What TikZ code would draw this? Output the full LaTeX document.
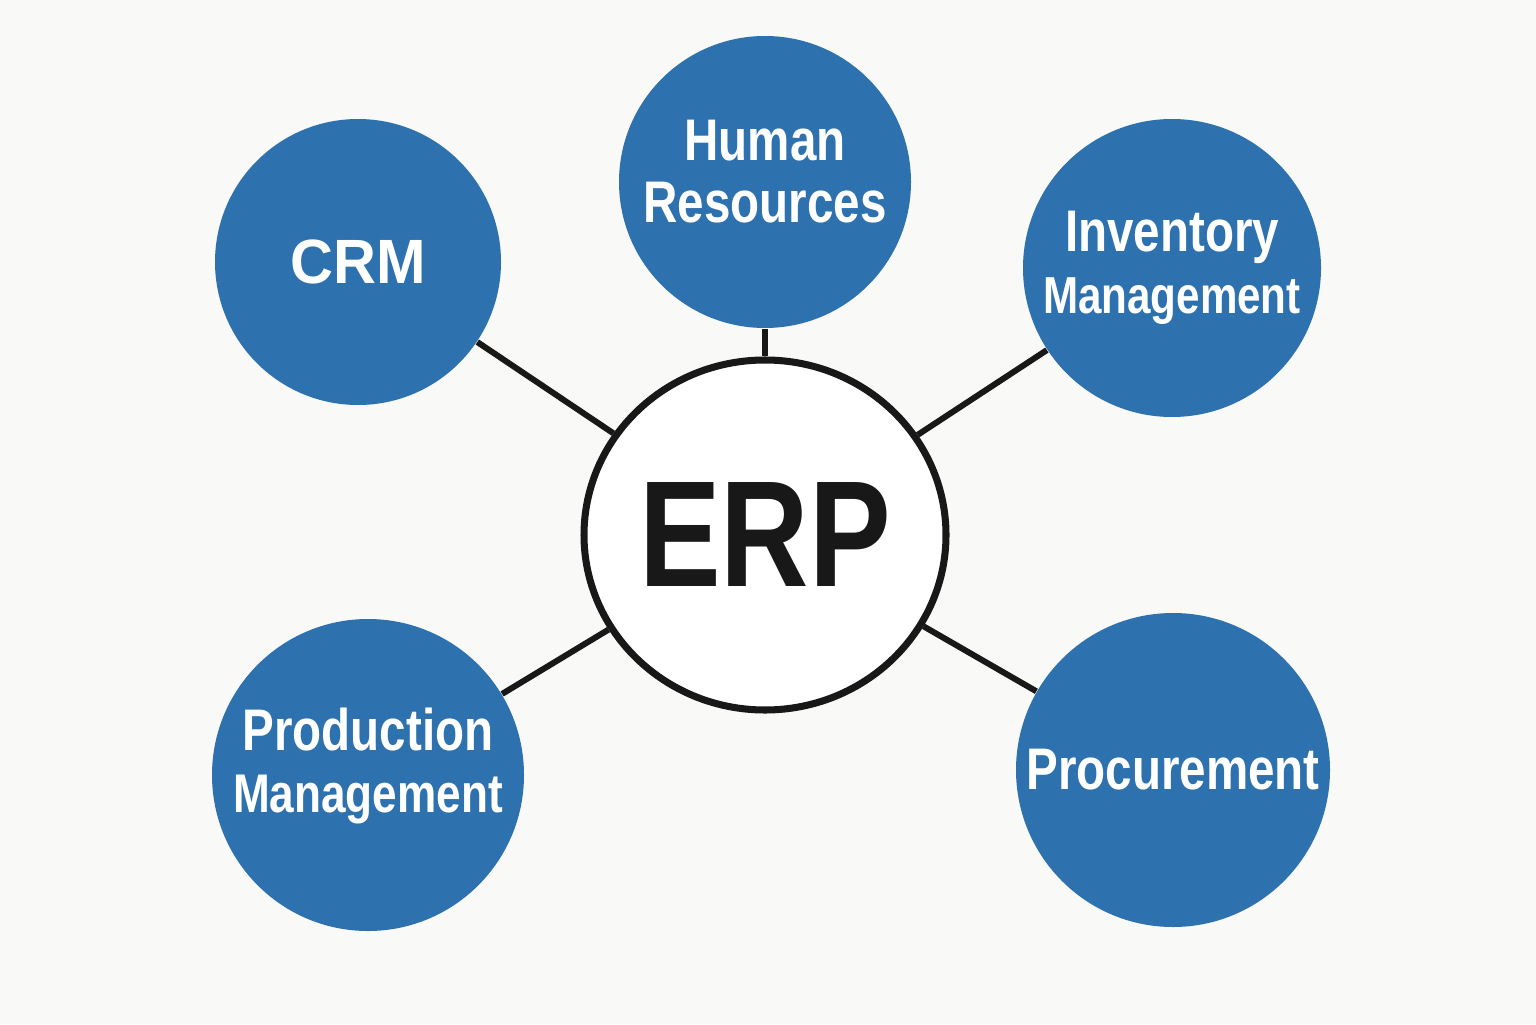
\documentclass[tikz,border=0pt]{standalone}
\usepackage{fontspec}
\newfontfamily\labfont{Liberation Sans}[FakeStretch=0.81]
\newfontfamily\widefont{Liberation Sans}[FakeStretch=0.95]
\usetikzlibrary{shapes.geometric}
\definecolor{bg}{RGB}{249,249,247}
\definecolor{modblue}{RGB}{46,113,175}
\definecolor{ink}{RGB}{24,24,24}
\tikzset{
  module/.style={circle, fill=modblue, draw=none, inner sep=0pt},
  modtext/.style={text=white, align=center, inner sep=0pt,
    font=\labfont\bfseries\fontsize{16.7}{17.6}\selectfont},
  link/.style={draw=ink, line width=1.7pt},
}
\begin{document}
\begin{tikzpicture}
\useasboundingbox (0,0) rectangle (15.36,10.24);
\fill[bg] (0,0) rectangle (15.36,10.24);
\node[ellipse, draw=ink, line width=2pt, fill=white, minimum width=3.62cm, minimum height=3.5cm, inner sep=0pt,
  label={[text=ink, inner sep=0pt, font=\labfont\bfseries\fontsize{43}{43}\selectfont]center:ERP}] (erp) at (7.65,4.89) {};
\node[module, minimum size=2.86cm, label={[modtext, font=\widefont\bfseries\fontsize{17.8}{17.8}\selectfont]center:CRM}] (crm) at (3.58,7.62) {};
\node[module, minimum size=2.92cm, label={[modtext, yshift=3pt]center:Human\\Resources}] (hr) at (7.65,8.42) {};
\node[module, minimum size=2.98cm, label={[modtext, yshift=0pt]center:Inventory\\{\fontsize{14.8}{14.8}\selectfont Management}}] (inv) at (11.72,7.56) {};
\node[module, minimum size=3.12cm, label={[modtext, yshift=2.5pt]center:Production\\{\fontsize{15.5}{15.5}\selectfont Management}}] (prod) at (3.68,2.49) {};
\node[module, minimum size=3.14cm, label={[modtext]center:Procurement}] (proc) at (11.73,2.54) {};
\foreach \m in {crm,hr,inv,prod,proc} \draw[link] (erp) -- (\m);
\end{tikzpicture}
\end{document}
